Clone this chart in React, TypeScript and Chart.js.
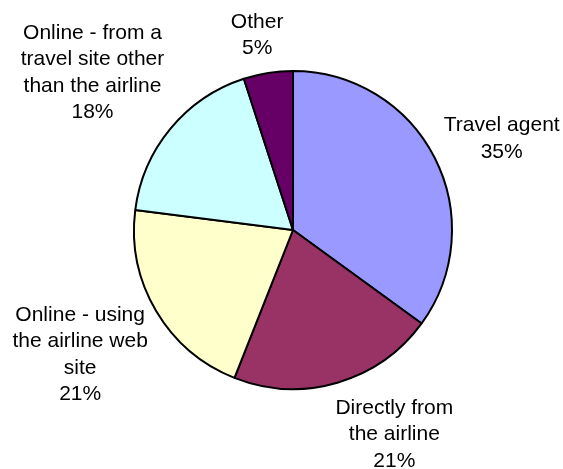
import React, { useEffect, useRef } from "react";
import { Chart, registerables } from "chart.js";

Chart.register(...registerables);

const categories = [
  "Travel agent",
  "Directly from the airline",
  "Online - using the airline web site",
  "Online - from a travel site other than the airline",
  "Other",
];
const categoryLines = [
  ["Travel agent"],
  ["Directly from", "the airline"],
  ["Online - using", "the airline web", "site"],
  ["Online - from a", "travel site other", "than the airline"],
  ["Other"],
];
const values = [35, 21, 21, 18, 5];
const colors = ["#9999FF", "#993366", "#FFFFCC", "#CCFFFF", "#660066"];

// label block offsets relative to slice outer mid point (layout only)
const labelOffsets = [
  [67, -19],
  [57, 52],
  [-76, 44],
  [-78, -56],
  [-11, -38],
];

const FONT = '21px "Liberation Sans", Arial, sans-serif';
const LINE_H = 26.5;

const labelPlugin = {
  id: "outerLabels",
  afterDatasetsDraw(chart: any) {
    const ctx = chart.ctx;
    const meta = chart.getDatasetMeta(0);
    const total = values.reduce((a, b) => a + b, 0);
    ctx.save();
    ctx.font = FONT;
    ctx.fillStyle = "#000000";
    ctx.textAlign = "center";
    ctx.textBaseline = "middle";
    meta.data.forEach((arc: any, i: number) => {
      const p = arc.getProps(["x", "y", "startAngle", "endAngle", "outerRadius"], true);
      const mid = (p.startAngle + p.endAngle) / 2;
      const ax = p.x + Math.cos(mid) * p.outerRadius + labelOffsets[i][0];
      const ay = p.y + Math.sin(mid) * p.outerRadius + labelOffsets[i][1];
      const lines = [...categoryLines[i], Math.round((values[i] / total) * 100) + "%"];
      const startY = ay - ((lines.length - 1) * LINE_H) / 2;
      lines.forEach((ln, k) => ctx.fillText(ln, ax, startY + k * LINE_H));
    });
    ctx.restore();
  },
};

export default function App() {
  const ref = useRef<HTMLCanvasElement | null>(null);
  useEffect(() => {
    if (!ref.current) return;
    const chart = new Chart(ref.current, {
      type: "pie",
      data: {
        labels: categories,
        datasets: [
          {
            data: values,
            backgroundColor: colors,
            borderColor: "#000000",
            borderWidth: 2,
            hoverOffset: 0,
          },
        ],
      },
      options: {
        responsive: false,
        animation: false,
        layout: { padding: { left: 133, top: 70, right: 110, bottom: 79 } },
        plugins: {
          legend: { display: false },
          tooltip: { enabled: false },
          title: { display: false },
        },
      },
      plugins: [labelPlugin],
    });
    return () => chart.destroy();
  }, []);
  return (
    <div style={{ position: "fixed", left: 0, top: 0, width: 563, height: 469, background: "#fff" }}>
      <canvas ref={ref} width={563} height={469} style={{ display: "block" }} />
    </div>
  );
}
